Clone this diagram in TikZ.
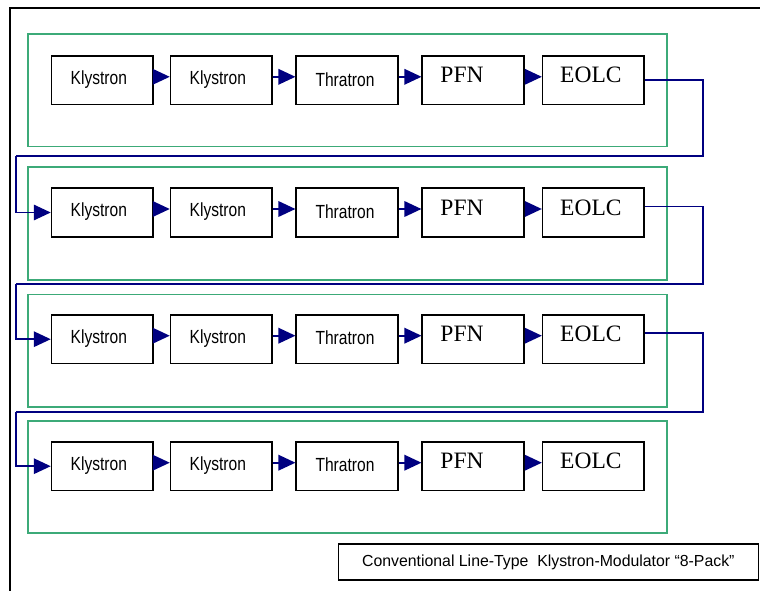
\documentclass[tikz,border=0pt]{standalone}
\usepackage{fontspec}
\setmainfont{Liberation Serif}
\newfontfamily\arialf{Liberation Sans}
\usetikzlibrary{arrows.meta}
\definecolor{grn}{RGB}{60,170,120}
\definecolor{nav}{RGB}{0,0,128}
\newcommand{\narrowtxt}[1]{\scalebox{0.82}[1]{#1}}
\begin{document}
\begin{tikzpicture}[x=1pt,y=-1pt,
  blk/.style={draw=black,line width=1.6pt,minimum width=101.5pt,minimum height=48.5pt,inner sep=0pt,fill=white},
  sl/.style={font=\arialf\fontsize{19}{22}\selectfont,inner sep=0pt,yshift=1pt},
  tl/.style={font=\fontsize{23.5}{26}\selectfont,inner sep=0pt,yshift=5pt},
  grp/.style={draw=grn,line width=1.6pt},
  flow/.style={draw=nav,line width=1.7pt,-{Triangle[length=17pt,width=15.5pt]}},
  ret/.style={draw=nav,line width=1.7pt}]
\useasboundingbox (0,0) rectangle (760,591);
\fill[white] (0,0) rectangle (760,591);
% outer frame
\draw[line width=1.5pt] (760,8) -- (10,8) -- (10,591);
% group frames
\foreach \i/\t/\b in {1/34/146.5,2/166.7/280,3/294.3/406.7,4/421/532.7}{
  \draw[grp] (28,\t) rectangle (666.7,\b);
}
% boxes
\foreach \r/\y in {1/80.3,2/212.5,3/339.2,4/466.2}{
  \node[blk,label={[sl,xshift=-3.5pt]center:\narrowtxt{Klystron}}] (K\r) at (102.3,\y) {};
  \node[blk,label={[sl,xshift=-3.5pt]center:\narrowtxt{Klystron}}] (L\r) at (221.3,\y) {};
  \node[blk,label={[sl,xshift=-2pt]center:\narrowtxt{Thratron}}] (T\r) at (347,\y) {};
  \node[blk,label={[tl,xshift=-11pt]center:PFN}] (P\r) at (473,\y) {};
  \node[blk,label={[tl,xshift=-2.5pt]center:EOLC}] (E\r) at (593.4,\y) {};
  \draw[flow] ([yshift=3.5pt]K\r.east) -- ([yshift=3.5pt]L\r.west);
  \draw[flow] ([yshift=3.5pt]L\r.east) -- ([yshift=3.5pt]T\r.west);
  \draw[flow] ([yshift=3.5pt]T\r.east) -- ([yshift=3.5pt]P\r.west);
  \draw[flow] ([yshift=3.5pt]P\r.east) -- ([yshift=3.5pt]E\r.west);
}
% return connectors
\foreach \a/\b/\y/\s in {1/2/156/0,2/3/284.3/6,3/4/411.7/6.5}{
  \coordinate (R\a) at (702.7,\y);
  \coordinate (S\a) at (16,\y);
  \draw[ret] ([yshift=\s pt]E\a.east) -| (R\a) -- (S\a);
  \draw[flow] (S\a) |- (K\b.west);
}
% caption
\node[draw,line width=1.5pt,minimum width=420pt,minimum height=36pt,inner sep=0pt,
      font=\arialf\fontsize{16}{19}\selectfont] (cap) at (548.3,562)
  {\scalebox{0.99}[1]{Conventional Line-Type\ \ Klystron-Modulator \textquotedblleft 8-Pack\textquotedblright}};
\end{tikzpicture}
\end{document}
